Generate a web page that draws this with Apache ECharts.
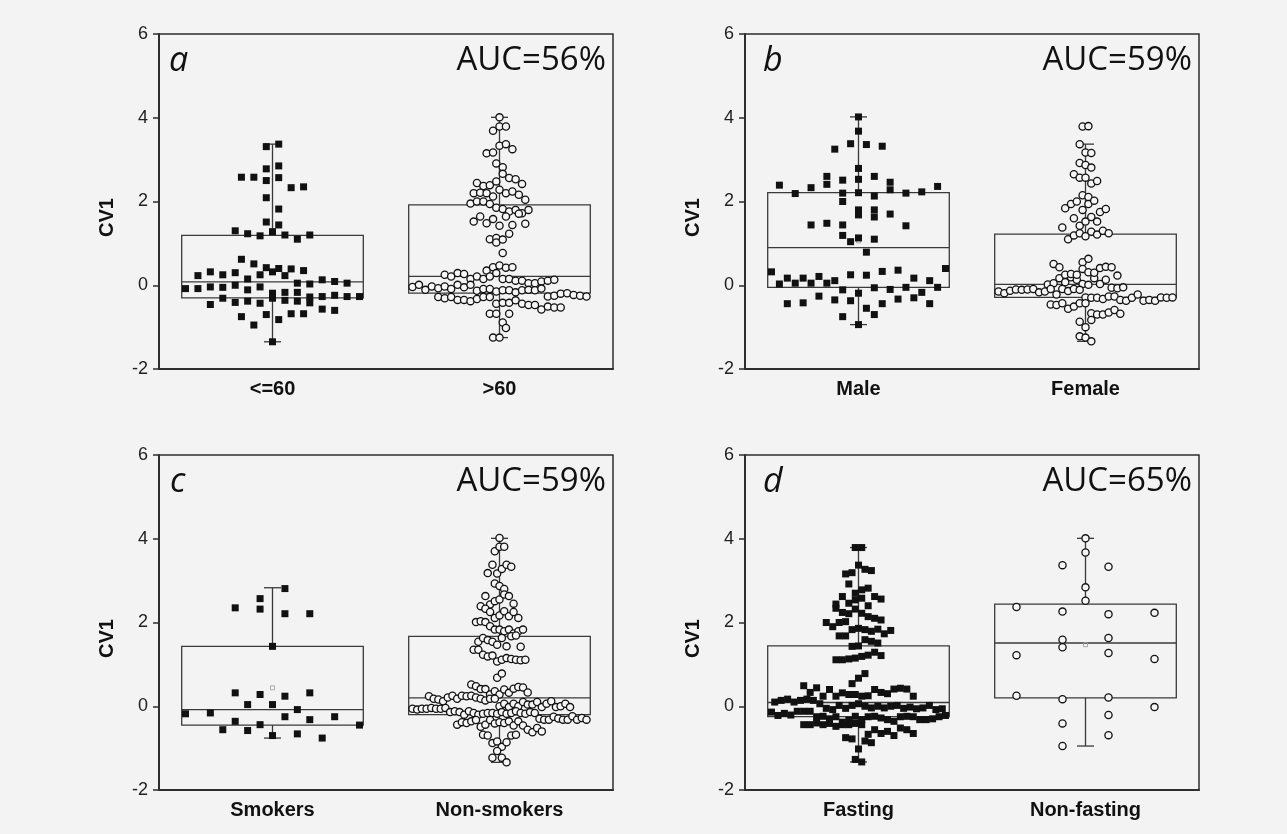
<!DOCTYPE html>
<html>
<head>
<meta charset="utf-8">
<script src="https://cdn.jsdelivr.net/npm/echarts@6/dist/echarts.min.js"></script>
<style>
  html, body { margin: 0; padding: 0; background: #f3f3f3; }
  #main { width: 1287px; height: 834px; }
</style>
</head>
<body>
<div id="main"></div>
<script>
  // categories and labels
  const ageCats = ["<=60", ">60"];
  const sexCats = ["Male", "Female"];
  const smokeCats = ["Smokers", "Non-smokers"];
  const fastCats = ["Fasting", "Non-fasting"];
  const panelLetters = ["a", "b", "c", "d"];
  const aucLabels = ["AUC=56%", "AUC=59%", "AUC=59%", "AUC=65%"];

  // CV1 values, read band by band, left to right
  const ageLow = [3.31, 3.37, 2.78, 2.85, 2.58, 2.58, 2.50, 2.57, 2.33, 2.35, 2.09, 1.82, 1.51,
    1.44, 1.30, 1.23, 1.18, 1.28, 1.20, 1.10, 1.20, 0.62, 0.51,
    0.23, 0.42, 0.32, 0.40, 0.25, 0.30, 0.15, 0.25, 0.39, 0.32, 0.35, 0.23,
    -0.08, 0.05, -0.08, -0.04, 0.03, 0.13, 0.09, -0.05, 0.05, 0.00, -0.11, -0.04,
    -0.19, -0.46, -0.17, -0.17, -0.28, -0.27, -0.31, -0.41, -0.24, -0.27, -0.38, -0.43, -0.31, -0.36, -0.27, -0.38, -0.42,
    -0.75, -0.57, -0.95, -0.70, -0.82, -0.68, -0.60, -0.68, -1.35];
  const ageHigh = [4.01, 3.69, 3.79, 3.79, 3.15, 3.17, 3.33, 3.37, 3.25, 2.91, 2.82,
    2.44, 2.37, 2.39, 2.48, 2.66, 2.56, 2.53, 2.42,
    2.20, 1.95, 2.21, 2.20, 2.12, 2.00, 2.28, 2.20, 2.24, 2.00, 2.16, 1.94, 2.04, 1.85,
    1.82, 1.52, 1.76, 1.64, 1.48, 1.58, 1.80, 1.42, 1.72, 1.64, 1.44, 1.71, 1.47, 1.80,
    1.10, 1.13, 1.02, 1.09, 1.23, 0.77,
    0.35, 0.43, 0.25, 0.21, 0.29, 0.47, 0.27, 0.15, 0.21, 0.15, 0.21, 0.29, 0.15, 0.42, 0.43,
    -0.04, 0.15, 0.01, -0.11, 0.11, -0.03, 0.11, 0.05, -0.07, -0.03, 0.05, 0.09, -0.09, 0.11, 0.01, -0.05, 0.13, 0.01,
    -0.13, -0.09, -0.09, -0.15, -0.12, -0.12, -0.17, -0.12, -0.11, -0.12, -0.08,
    -0.28, -0.27, -0.25, -0.20, -0.31, -0.19, -0.23, -0.28, -0.35, -0.35, -0.38, -0.25, -0.33, -0.28, -0.27, -0.28,
    -0.44, -0.42, -0.42, -0.36, -0.44, -0.47, -0.47,
    -0.68, -0.58, -0.68, -0.89, -1.25, -0.51, -1.25, -0.53, -1.02, -0.53, -0.68];
  const male = [4.02, 3.68, 3.25, 3.38, 3.36, 3.32, 2.79,
    2.39, 2.19, 2.33, 2.41, 2.60, 2.20, 2.51, 2.21, 2.53, 2.13, 2.60, 2.28, 2.46, 2.20, 2.23, 2.36, 2.00,
    1.44, 1.19, 1.80, 1.48, 1.80, 1.44, 1.68, 1.04, 1.63, 1.13, 1.70, 1.42, 1.10, 0.79,
    0.03, 0.32, 0.17, 0.05, 0.17, 0.21, 0.11, 0.05, 0.25, 0.24, 0.33, 0.36, 0.05, 0.17, 0.11, 0.40,
    -0.44, -0.11, -0.42, -0.26, -0.35, -0.19, -0.37, -0.06, -0.55, -0.10, -0.44, -0.05, -0.33, -0.30, -0.17, -0.44, -0.05,
    -0.75, -0.94, -0.70];
  const female = [3.79, 3.80, 3.37, 3.17, 3.16, 2.92, 2.87, 2.81, 2.65, 2.57, 2.57, 2.43, 2.49,
    1.84, 1.94, 2.00, 1.80, 2.15, 1.60, 1.42, 1.52, 1.38, 1.94, 2.11, 2.02, 1.63, 1.75, 1.52, 1.82,
    1.10, 1.19, 1.24, 1.17, 1.28, 1.21, 1.30, 1.24, 0.51, 0.55, 0.63,
    0.02, 0.05, 0.17, 0.07, 0.43, 0.19, 0.13, 0.03, 0.25, 0.01, 0.27, 0.17, 0.25, 0.39, 0.31, 0.30, 0.03, 0.41, 0.13, 0.44, 0.43, 0.23,
    -0.15, -0.19, -0.13, -0.10, -0.06, -0.11, -0.10, -0.07, -0.09, -0.17, -0.15, -0.09, -0.22, -0.05, -0.09, -0.14, -0.09, -0.11,
    -0.46, -0.29, -0.30, -0.30, -0.33, -0.47, -0.27, -0.27, -0.35, -0.37, -0.43, -0.56, -0.30, -0.51, -0.22, -0.37, -0.43, -0.43, -0.35, -0.37, -0.29, -0.30, -0.29,
    -0.67, -0.87, -0.70, -1.00, -0.83, -1.22, -1.25, -0.70, -1.34, -0.65, -0.59, -0.68];
  const smokers = [2.35, 2.57, 2.32, 2.81, 2.21, 2.21, 1.43,
    0.32, 0.28, 0.24, 0.32,
    -0.18, -0.16, 0.04, -0.36, -0.56, 0.04, -0.44, -0.58, -0.25, -0.70, -0.32, -0.66, -0.08, -0.76, -0.25, -0.45];
  const nonSmokers = [4.02, 3.70, 3.81, 3.81,
    3.18, 2.93, 2.87, 3.38, 3.17, 3.28, 3.38, 3.33,
    2.39, 2.63, 2.43, 2.51, 2.33, 2.55, 2.80, 2.67, 2.63, 2.45,
    2.01, 2.25, 2.11, 2.17, 2.27, 2.15, 2.03, 2.25, 2.01, 2.11, 1.91, 1.83,
    1.83, 1.54, 1.79, 1.35, 1.63, 1.58, 1.35, 1.83, 1.54, 1.74, 1.47, 1.63, 1.43, 1.79, 1.67, 1.69, 1.83, 1.42,
    1.23, 1.19, 1.21, 1.07, 1.11, 1.15, 1.13, 1.11, 1.10, 1.11,
    0.52, 0.48, 0.68, 0.78,
    0.24, 0.41, 0.18, 0.16, 0.12, 0.41, 0.21, 0.28, 0.36, 0.28, 0.40, 0.32, 0.25, 0.18, 0.25, 0.24, 0.25, 0.21, 0.18, 0.14, 0.42, 0.18, 0.46, 0.45, 0.18, 0.33,
    -0.06, -0.08, 0.00, 0.06, -0.02, 0.06, 0.00, 0.10, -0.06, -0.06, -0.04, 0.04, 0.04, -0.06, 0.10, -0.02, 0.06, 0.12, -0.06, -0.02, 0.00, 0.06, -0.04, -0.02,
    -0.14, -0.12, -0.14, -0.20, -0.12, -0.16, -0.20, -0.18, -0.16, -0.16, -0.18, -0.14, -0.18, -0.16, -0.12, -0.16, -0.18, -0.14, -0.16,
    -0.30, -0.44, -0.32, -0.32, -0.25, -0.29, -0.38, -0.32, -0.40, -0.36, -0.33, -0.49, -0.32, -0.44, -0.24, -0.33, -0.41, -0.38, -0.40, -0.36, -0.46, -0.32, -0.36, -0.28, -0.32, -0.46,
    -0.68, -0.70, -0.56, -0.88, -1.23, -0.84, -0.97, -1.07, -0.62, -0.86, -1.23, -0.52, -0.70, -1.34, -0.60, -0.68];
  const fasting = [3.79, 3.79, 3.16, 3.19, 3.37, 3.27, 3.24,
    2.92, 2.44, 2.34, 2.62, 2.24, 2.70, 2.46, 2.78, 2.21, 2.54, 2.58, 2.82, 2.40, 2.62, 2.56, 2.32, 2.22, 2.14,
    2.10, 2.06, 2.00, 1.90, 2.00, 2.02,
    1.83, 1.86, 1.68, 1.83, 1.68, 1.43, 1.44, 1.59, 1.79, 1.84, 1.55, 1.73, 1.51, 1.81,
    1.11, 1.11, 1.13, 1.15, 1.19, 1.22, 1.29, 1.21, 0.54, 0.49, 0.67, 0.78,
    0.33, 0.10, 0.44, 0.14, 0.24, 0.40, 0.17, 0.24, 0.32, 0.28, 0.28, 0.24, 0.25, 0.10, 0.40, 0.33, 0.30, 0.14, 0.41, 0.17, 0.43, 0.14, 0.06, 0.41, 0.24,
    -0.14, -0.22, -0.05, -0.17, -0.08, -0.21, 0.02, -0.12, -0.05, 0.02, 0.06, 0.00, -0.04, 0.00, -0.04, 0.00, 0.02, -0.05, -0.02, -0.06, -0.04, 0.02, -0.12, -0.08, -0.12, -0.06,
    -0.44, -0.44, -0.40, -0.25, -0.44, -0.24, -0.30, -0.25, -0.41, -0.38, -0.33, -0.48, -0.24, -0.32, -0.44, -0.25, -0.24, -0.28, -0.32, -0.44, -0.41, -0.36, -0.25, -0.24, -0.25, -0.32, -0.32, -0.30, -0.25, -0.44, -0.22,
    -0.75, -0.67, -0.56, -0.65, -0.78, -0.60, -1.02, -0.83, -0.70, -1.27, -0.52, -0.87, -1.33, -0.56, -0.65];
  const nonFasting = [4.01, 3.67, 3.37, 3.33, 2.84, 2.52, 2.37, 2.26, 2.20, 2.23, 1.59, 1.63,
    1.22, 1.41, 1.27, 1.13, 0.25, 0.17, 0.21, -0.41, -0.02, -0.21, -0.95, -0.69];

  // box stats: [min, Q1, median, Q3, max]
  const ageBox = [[-1.35, -0.30, 0.08, 1.19, 3.37], [-1.25, -0.19, 0.21, 1.92, 4.01]];
  const sexBox = [[-0.94, -0.05, 0.90, 2.21, 4.02], [-1.34, -0.29, 0.02, 1.22, 3.37]];
  const smokeBox = [[-0.76, -0.45, -0.08, 1.43, 2.83], [-1.34, -0.20, 0.20, 1.67, 4.01]];
  const fastBox = [[-1.33, -0.25, 0.09, 1.44, 3.79], [-0.95, 0.20, 1.51, 2.44, 4.01]];
  const ageMeans = ["-", "-"];
  const sexMeans = [1.06, "-"];
  const smokeMeans = [0.44, "-"];
  const fastMeans = ["-", 1.47];

  const panels = [
    { cats: ageCats, groups: [ageLow, ageHigh], box: ageBox, means: ageMeans, left: 159, top: 34, letterX: 169 },
    { cats: sexCats, groups: [male, female], box: sexBox, means: sexMeans, left: 745, top: 34, letterX: 763 },
    { cats: smokeCats, groups: [smokers, nonSmokers], box: smokeBox, means: smokeMeans, left: 159, top: 455, letterX: 170 },
    { cats: fastCats, groups: [fasting, nonFasting], box: fastBox, means: fastMeans, left: 745, top: 455, letterX: 763 },
  ];
  const W = 454, H = 335;
  const ink = "#2e2e2e";

  // GraphPad-like swarm: rows of close values, spread sideways in data order
  function swarm(vals, rowH, spMax, avail) {
    let idx = vals.map((v, i) => i).sort((a, b) => vals[a] - vals[b] || a - b);
    let rows = [];
    let cur = null;
    idx.forEach((i) => {
      if (!cur || vals[i] - cur.start >= rowH) {
        cur = { start: vals[i], items: [] };
        rows.push(cur);
      }
      cur.items.push(i);
    });
    let maxN = Math.max(...rows.map((r) => r.items.length));
    let sp = maxN > 1 ? Math.min(spMax, avail / (maxN - 1)) : 0;
    let dx = [];
    rows.forEach((r) => {
      let items = r.items.slice().sort((a, b) => a - b);
      items.forEach((i, k) => (dx[i] = (k - (items.length - 1) / 2) * sp));
    });
    return dx;
  }

  function renderBox(params, api) {
    let c = api.value(0);
    let xc = api.coord([c, 0])[0];
    let w = api.size([1, 0])[0] * 0.8;
    let y = (k) => api.coord([c, api.value(k)])[1];
    let st = { stroke: "#3a3a3a", lineWidth: 1.3, fill: null };
    let children = [
      { type: "line", shape: { x1: xc, y1: y(5), x2: xc, y2: y(4) }, style: st },
      { type: "line", shape: { x1: xc, y1: y(2), x2: xc, y2: y(1) }, style: st },
      { type: "line", shape: { x1: xc - 8.5, y1: y(5), x2: xc + 8.5, y2: y(5) }, style: st },
      { type: "line", shape: { x1: xc - 8.5, y1: y(1), x2: xc + 8.5, y2: y(1) }, style: st },
      { type: "rect", shape: { x: xc - w / 2, y: y(4), width: w, height: y(2) - y(4) }, style: st },
      { type: "line", shape: { x1: xc - w / 2, y1: y(3), x2: xc + w / 2, y2: y(3) }, style: st },
    ];
    if (!isNaN(api.value(6))) {
      children.push({
        type: "rect",
        shape: { x: xc - 2, y: y(6) - 2, width: 4, height: 4 },
        style: { stroke: "#999", lineWidth: 0.8, fill: null },
      });
    }
    return { type: "group", children: children };
  }

  function renderSquare(params, api) {
    let p = api.coord([api.value(0), api.value(1)]);
    return {
      type: "rect",
      shape: { x: p[0] + api.value(2) - 3.5, y: p[1] - 3.5, width: 7, height: 7 },
      style: { fill: "#111" },
    };
  }

  function renderCircle(params, api) {
    let p = api.coord([api.value(0), api.value(1)]);
    return {
      type: "circle",
      shape: { cx: p[0] + api.value(2), cy: p[1], r: 3.6 },
      style: { fill: "#f6f6f6", stroke: "#111", lineWidth: 1.3 },
    };
  }

  let grid = [], xAxis = [], yAxis = [], series = [], graphic = [];

  panels.forEach((pn, i) => {
    grid.push({
      left: pn.left, top: pn.top, width: W, height: H,
      show: true, borderColor: ink, borderWidth: 1.5,
    });
    xAxis.push({
      type: "category", gridIndex: i, data: pn.cats,
      axisLine: { onZero: false, lineStyle: { color: ink, width: 2 } },
      axisTick: { alignWithLabel: true, length: 6, lineStyle: { color: ink, width: 1.5 } },
      axisLabel: { fontFamily: "Liberation Sans", fontWeight: "bold", fontSize: 20, color: "#111", margin: 10 },
      splitLine: { show: false },
    });
    yAxis.push({
      type: "value", gridIndex: i, min: -2, max: 6, interval: 2,
      axisLine: { show: true, onZero: false, lineStyle: { color: ink, width: 2 } },
      axisTick: { show: true, length: 6, lineStyle: { color: ink, width: 1.5 } },
      axisLabel: { fontFamily: "Liberation Sans", fontSize: 18, color: "#222", margin: 11 },
      splitLine: { show: false },
    });

    series.push({
      type: "custom", xAxisIndex: i, yAxisIndex: i,
      encode: { x: 0, y: [1, 2, 3, 4, 5] },
      renderItem: renderBox,
      data: pn.box.map((b, j) => [pn.cats[j]].concat(b, [pn.means[j]])),
    });

    pn.groups.forEach((vals, j) => {
      let dx = swarm(vals, 0.3, 46, 174);
      series.push({
        type: "custom", xAxisIndex: i, yAxisIndex: i,
        encode: { x: 0, y: 1 },
        renderItem: j === 0 ? renderSquare : renderCircle,
        data: vals.map((v, k) => [pn.cats[j], v, dx[k]]),
      });
    });

    graphic.push({
      type: "text", x: pn.left - 51.5, y: pn.top + H / 2 + 16, rotation: Math.PI / 2,
      style: { text: "CV1", fontFamily: "Liberation Sans", fontWeight: "bold", fontSize: 20, fill: "#111", align: "center", verticalAlign: "middle" },
    });
    graphic.push({
      type: "text", x: pn.letterX, y: pn.top + 27,
      style: { text: panelLetters[i], fontFamily: "Open Sans", fontStyle: "italic", fontSize: 34, fill: "#111", align: "left", verticalAlign: "middle" },
    });
    graphic.push({
      type: "text", x: pn.left + W - 7, y: pn.top + 27,
      style: { text: aucLabels[i], fontFamily: "Open Sans", fontSize: 33, fill: "#111", align: "right", verticalAlign: "middle" },
    });
  });

  let chart = echarts.init(document.getElementById("main"));
  chart.setOption({
    backgroundColor: "#f3f3f3",
    animation: false,
    grid: grid,
    xAxis: xAxis,
    yAxis: yAxis,
    series: series,
    graphic: graphic,
  });
</script>
</body>
</html>
